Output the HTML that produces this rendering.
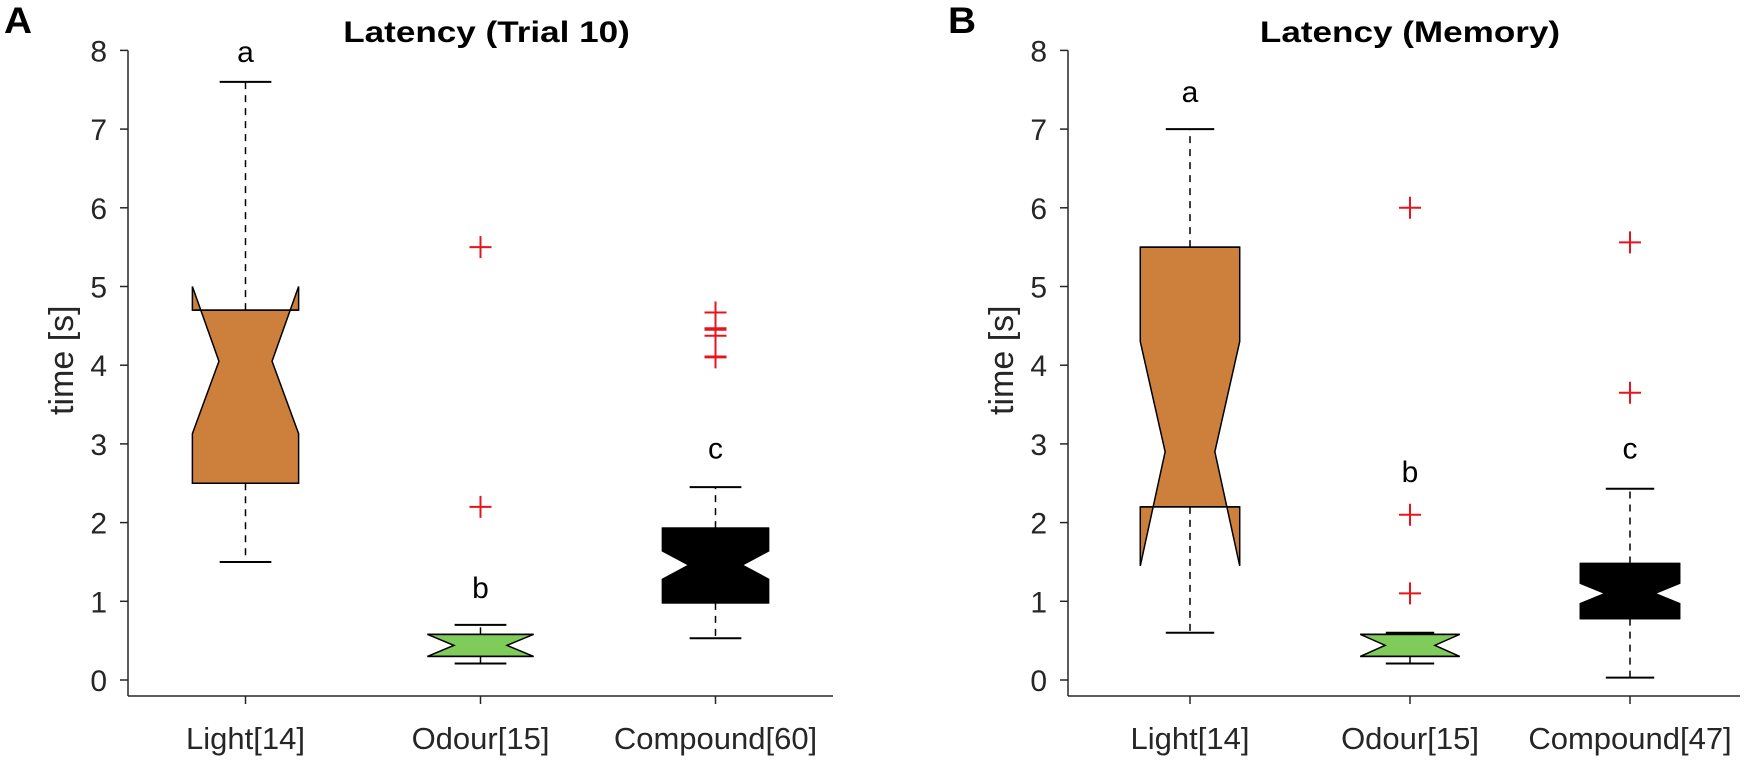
<!DOCTYPE html>
<html><head><meta charset="utf-8"><style>
html,body{margin:0;padding:0;background:#fff;}
svg{display:block;font-family:"Liberation Sans",Arial,sans-serif;}
</style></head><body>
<svg id="chart" width="1745" height="760" viewBox="0 0 1745 760" xmlns="http://www.w3.org/2000/svg"></svg>
<script>
const categoriesA = ["Light[14]","Odour[15]","Compound[60]"];
const categoriesB = ["Light[14]","Odour[15]","Compound[47]"];
const yTicks = [0,1,2,3,4,5,6,7,8];
// [whiskerLow, q1, notchLow, median, notchHigh, q3, whiskerHigh]
const statsA_light = [1.5,2.5,3.13,4.05,5.0,4.7,7.6];
const statsA_odour = [0.21,0.30,0.30,0.44,0.58,0.58,0.70];
const statsA_compound = [0.53,0.98,1.28,1.46,1.64,1.93,2.45];
const statsB_light = [0.60,2.2,1.45,2.9,4.3,5.5,7.0];
const statsB_odour = [0.21,0.30,0.30,0.44,0.58,0.58,0.60];
const statsB_compound = [0.03,0.78,0.97,1.1,1.23,1.48,2.43];
const outliersA_light = [];
const outliersA_odour = [5.5,2.2];
const outliersA_compound = [4.67,4.47,4.45,4.375,4.11,4.10];
const outliersB_light = [];
const outliersB_odour = [6.0,2.1,1.1];
const outliersB_compound = [5.56,3.65];
const lettersA = ["a","b","c"];
const lettersB = ["a","b","c"];
const letterYA = [7.98,1.17,2.94];
const letterYB = [7.47,2.64,2.94];

const NS="http://www.w3.org/2000/svg";
const svg=document.getElementById('chart');
function mk(tag,attrs,parent){const e=document.createElementNS(NS,tag);for(const k in attrs)e.setAttribute(k,attrs[k]);(parent||svg).appendChild(e);return e;}
function txt(x,y,s,size,anchor,sx,extra,parent){
  const a=Object.assign({x:0,y:0,'text-anchor':anchor,'font-size':size,fill:'#262626',transform:`translate(${x},${y}) scale(${sx},1)`},extra||{});
  const t=mk('text',a,parent);t.textContent=s;return t;
}

const colors=["#CD803C","#80CC5A","#000000"];

function panel(opt){
  const g=mk('g',{});
  
  
  const ax=opt.axisX, x0=opt.x0, step=opt.step, y0=680, unit=78.7, axisY=696;
  const y=v=>y0-v*unit;
  const xc=i=>x0+step*(i+0.5);
  const xEnd=x0+step*3;
  const ya=mk('line',{x1:ax,y1:axisY,x2:ax,y2:y(8),stroke:'#262626','stroke-width':1.5},g);
  
  
  const xa=mk('line',{x1:ax,y1:axisY,x2:xEnd,y2:axisY,stroke:'#262626','stroke-width':1.5},g);
  
  
  yTicks.forEach(t=>{
    mk('line',{x1:ax-8,y1:y(t),x2:ax,y2:y(t),stroke:'#262626','stroke-width':1.5},g);
    const tl=txt(ax-21,y(t)+11,String(t),30,'end',1.0,null,g);
    
    
  });
  const yl=mk('text',{x:0,y:0,'text-anchor':'middle','font-size':34,fill:'#262626',transform:`translate(${ax-55},${y(4)-5}) rotate(-90)`},g);
  yl.textContent='time [s]';
  
  
  const ti=txt((ax+xEnd)/2+6,42,opt.title,30,'middle',1.17,{'font-weight':'bold',fill:'#000'},g);
  
  
  const pl=txt(opt.labelX,33,opt.label,37,'start',1.05,{'font-weight':'bold',fill:'#000'},g);
  
  
  const hw=step*0.226, cap=step*0.11;
  opt.cats.forEach((c,i)=>{
    const cx=xc(i);
    mk('line',{x1:cx,y1:axisY,x2:cx,y2:axisY+8,stroke:'#262626','stroke-width':1.5},g);
    const xl=txt(cx,749,c,31,'middle',1.0,null,g);
    
    
    const [wl,q1,nl,md,nh,q3,wh]=opt.stats[i];
    const w1=mk('line',{x1:cx,y1:y(q3),x2:cx,y2:y(wh),stroke:'#000','stroke-width':1.5,'stroke-dasharray':'7,6'},g);
    
    
    const w2=mk('line',{x1:cx,y1:y(q1),x2:cx,y2:y(wl),stroke:'#000','stroke-width':1.5,'stroke-dasharray':'7,6'},g);
    
    
    const c1=mk('line',{x1:cx-cap,y1:y(wh),x2:cx+cap,y2:y(wh),stroke:'#000','stroke-width':2},g);
    
    
    const c2=mk('line',{x1:cx-cap,y1:y(wl),x2:cx+cap,y2:y(wl),stroke:'#000','stroke-width':2},g);
    
    
    const L=cx-hw,R=cx+hw,ins=hw/2;
    const pts=[[L,y(q1)],[L,y(nl)],[L+ins,y(md)],[L,y(nh)],[L,y(q3)],[R,y(q3)],[R,y(nh)],[R-ins,y(md)],[R,y(nl)],[R,y(q1)]];
    const bx=mk('polygon',{points:pts.map(p=>p.join(',')).join(' '),fill:colors[i],stroke:'#000','stroke-width':1.5},g);
    
    
    mk('line',{x1:L,y1:y(q1),x2:R,y2:y(q1),stroke:'#000','stroke-width':1.5},g);
    mk('line',{x1:L,y1:y(q3),x2:R,y2:y(q3),stroke:'#000','stroke-width':1.5},g);
    opt.outliers[i].forEach(v=>{
      const o=mk('path',{d:`M${cx-11},${y(v)}H${cx+11}M${cx},${y(v)-11}V${y(v)+11}`,stroke:'#E8141B','stroke-width':2,fill:'none'},g);
      
      
    });
    const lt=txt(cx,y(opt.letterY[i])+10,opt.letters[i],30,'middle',1.0,{fill:'#000'},g);
    
    
  });
}
panel({name:'panel-a',axisX:128,x0:128,step:235,title:'Latency (Trial 10)',label:'A',labelX:4,cats:categoriesA,
  stats:[statsA_light,statsA_odour,statsA_compound],outliers:[outliersA_light,outliersA_odour,outliersA_compound],letters:lettersA,letterY:letterYA});
panel({name:'panel-b',axisX:1068,x0:1080,step:220,title:'Latency (Memory)',label:'B',labelX:948,cats:categoriesB,
  stats:[statsB_light,statsB_odour,statsB_compound],outliers:[outliersB_light,outliersB_odour,outliersB_compound],letters:lettersB,letterY:letterYB});
</script>
</body></html>
